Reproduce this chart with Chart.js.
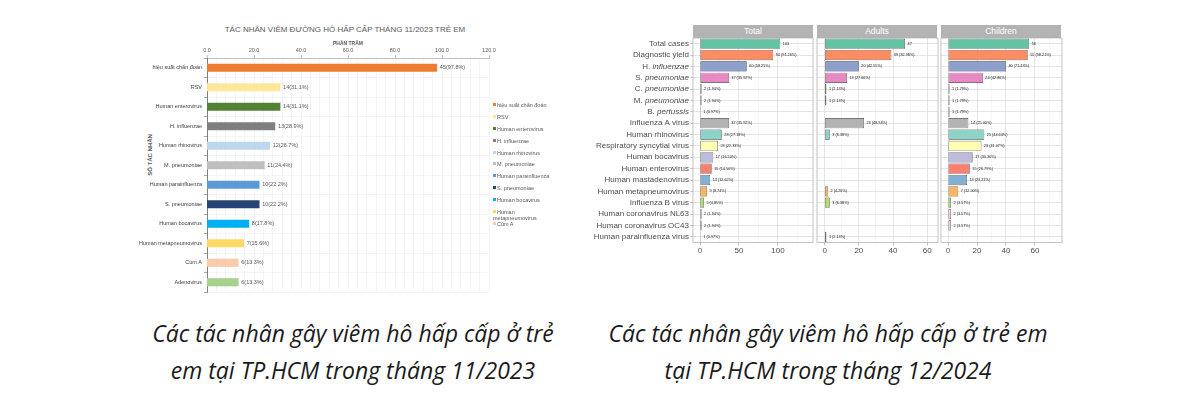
<!DOCTYPE html>
<html>
<head>
<meta charset="utf-8">
<script src="https://cdn.jsdelivr.net/npm/chart.js@4.4.0/dist/chart.umd.min.js"></script>
<style>
  body { margin: 0; background: #fff; }
  #page { position: relative; width: 1200px; height: 400px; overflow: hidden; font-family: "Liberation Sans", Arial, sans-serif; }
  canvas { position: absolute; }
  #leftTitle { position: absolute; left: 130px; width: 430px; top: 25px; text-align: center; font-size: 8px; color: #595959; white-space: nowrap; }
  #leftYTitle { position: absolute; left: 120px; top: 152px; width: 60px; text-align: center; font-size: 6px; font-weight: bold; color: #595959; transform: rotate(-90deg); white-space: nowrap; }
  .legendItem { position: absolute; left: 493px; font-size: 5.5px; line-height: 6px; color: #595959; width: 62px; }
  .legendItem span { display: inline-block; width: 3px; height: 3px; margin-right: 1px; vertical-align: 1px; }
  .strip { position: absolute; top: 25px; height: 12.5px; width: 120px; background: #b3b3b3; color: #fff; font-size: 8.5px; line-height: 12.5px; text-align: center; }
  .caption { position: absolute; top: 315px; font-family: "Open Sans", "Noto Sans", sans-serif; font-style: italic; font-size: 23px; line-height: 37px; color: #1a1a1a; text-align: center; white-space: nowrap; }
</style>
</head>
<body>
<div id="page">
  <div id="leftTitle">TÁC NHÂN VIÊM ĐƯỜNG HÔ HẤP CẤP THÁNG 11/2023 TRẺ EM</div>
  <div id="leftYTitle">SỐ TÁC NHÂN</div>
  <canvas id="chart2023" width="430" height="280" style="left:130px; top:20px"></canvas>
  <div id="legend2023"></div>

  <div class="strip" style="left:693px">Total</div>
  <div class="strip" style="left:817px">Adults</div>
  <div class="strip" style="left:941px">Children</div>
  <canvas id="chartTotal" width="226" height="230" style="left:590px; top:30px"></canvas>
  <canvas id="chartAdults" width="130" height="230" style="left:812px; top:30px"></canvas>
  <canvas id="chartChildren" width="130" height="230" style="left:936px; top:30px"></canvas>

  <div class="caption" style="left:103px; width:500px">Các tác nhân gây viêm hô hấp cấp ở trẻ<br>em tại TP.HCM trong tháng 11/2023</div>
  <div class="caption" style="left:578px; width:500px">Các tác nhân gây viêm hô hấp cấp ở trẻ em<br>tại TP.HCM trong tháng 12/2024</div>
</div>

<script>
// ---- 11/2023 chart data
const agents2023 = ['hiệu suất chẩn đoán', 'RSV', 'Human enterovirus', 'H. influenzae', 'Human rhinovirus',
                    'M. pneumoniae', 'Human parainfluenza', 'S. pneumoniae', 'Human bocavirus',
                    'Human metapneumovirus', 'Cúm A', 'Adenovirus'];
const counts2023 = [45, 14, 14, 13, 12, 11, 10, 10, 8, 7, 6, 6];
const percent2023 = [97.8, 31.1, 31.1, 28.9, 26.7, 24.4, 22.2, 22.2, 17.8, 15.6, 13.3, 13.3];
const colors2023 = ['#ED7D31', '#FFE699', '#548235', '#7F7F7F', '#BDD7EE', '#BFBFBF',
                    '#5B9BD5', '#264478', '#00B0F0', '#FFD966', '#F8CBAD', '#A9D18E'];
const xTicks2023 = [0, 20, 40, 60, 80, 100, 120];
const xTickLabels2023 = ['0.0', '20.0', '40.0', '60.0', '80.0', '100.0', '120.0'];

// ---- 12/2024 chart data
const agents2024 = ['Total cases', 'Diagnostic yield', 'H. influenzae', 'S. pneumoniae', 'C. pneumoniae',
                    'M. pneumoniae', 'B. pertussis', 'Influenza A virus', 'Human rhinovirus',
                    'Respiratory syncytial virus', 'Human bocavirus', 'Human enterovirus',
                    'Human mastadenovirus', 'Human metapneumovirus', 'Influenza B virus',
                    'Human coronavirus NL63', 'Human coronavirus OC43', 'Human parainfluenza virus'];
const totalCounts = [103, 94, 60, 37, 2, 2, 1, 37, 28, 23, 17, 15, 13, 9, 5, 2, 2, 1];
const totalPercent = [null, 91.26, 58.25, 35.92, 1.94, 1.94, 0.97, 35.92, 27.18, 22.33, 16.50, 14.56, 12.62, 8.74, 4.85, 1.94, 1.94, 0.97];
const adultCounts = [47, 39, 20, 13, 1, 1, null, 23, 3, null, null, null, null, 2, 3, null, null, 1];
const adultPercent = [null, 82.98, 42.55, 27.66, 2.13, 2.13, null, 48.94, 6.38, null, null, null, null, 4.26, 6.38, null, null, 2.13];
const childCounts = [56, 55, 40, 24, 1, 1, 1, 14, 25, 23, 17, 15, 13, 7, 2, 2, 2, null];
const childPercent = [null, 98.21, 71.43, 42.86, 1.79, 1.79, 1.79, 25.00, 44.64, 41.07, 30.36, 26.79, 23.21, 12.50, 3.57, 3.57, 3.57, null];
const colors2024 = ['#66C2A5', '#FC8D62', '#8DA0CB', '#E78AC3', '#A6D854', '#FFD92F', '#E5C494', '#B3B3B3',
                    '#8DD3C7', '#FFFFB3', '#BEBADA', '#FB8072', '#80B1D3', '#FDB462', '#B3DE69',
                    '#FCCDE5', '#D9D9D9', '#BC80BD'];
const totalTicks = [0, 25, 50, 75, 100, 125];
const totalTickLabels = ['0', '', '50', '', '100', ''];
const adultTicks = [0, 10, 20, 30, 40, 50, 60];
const adultTickLabels = ['0', '', '20', '', '40', '', '60'];
const childTicks = [0, 10, 20, 30, 40, 50, 60, 70];
const childTickLabels = ['0', '', '20', '', '40', '', '60', ''];

// legend (Excel style, Adenovirus got cut off)
const legendTops = [102, 114, 126, 138, 150, 161, 173, 185, 197, 209, 221];
const legendBox = document.getElementById('legend2023');
legendTops.forEach((top, i) => {
    const item = document.createElement('div');
    item.className = 'legendItem';
    item.style.top = top + 'px';
    item.innerHTML = '<span style="background:' + colors2023[i] + '"></span>' + agents2023[i];
    legendBox.appendChild(item);
});

// value labels next to bars
function valueLabels(textFor, font, color, gap) {
    return {
        id: 'valueLabels',
        afterDatasetsDraw(chart) {
            const c = chart.ctx;
            const meta = chart.getDatasetMeta(0);
            c.save();
            c.font = font;
            c.fillStyle = color;
            c.textAlign = 'left';
            c.textBaseline = 'middle';
            meta.data.forEach((bar, i) => {
                const t = textFor(i);
                if (t === null) return;
                c.fillText(t, bar.x + gap, bar.y);
            });
            c.restore();
        }
    };
}

// ---- left chart
new Chart(document.getElementById('chart2023'), {
    type: 'bar',
    data: {
        labels: agents2023,
        datasets: [{
            data: percent2023,
            backgroundColor: colors2023,
            barThickness: 7.5
        }]
    },
    options: {
        indexAxis: 'y',
        responsive: false,
        animation: false,
        events: [],
        layout: { padding: { top: 16, right: 71, bottom: 8, left: 0 } },
        plugins: { legend: { display: false }, tooltip: { enabled: false } },
        scales: {
            x: {
                position: 'top',
                min: 0,
                max: 120,
                afterFit: s => { s.height = 22 },
                afterBuildTicks: s => {
                    const t = [];
                    for (let v = 0; v <= 120; v += 4) t.push({ value: v });
                    s.ticks = t;
                },
                title: { display: true, text: 'PHẦN TRĂM', color: '#595959', font: { size: 5, weight: 'bold' }, padding: { top: 5, bottom: 0 } },
                ticks: {
                    autoSkip: false,
                    maxRotation: 0,
                    padding: 1,
                    color: '#595959',
                    font: { size: 5.5 },
                    callback: v => {
                        const i = xTicks2023.indexOf(v);
                        return i >= 0 ? xTickLabels2023[i] : '';
                    }
                },
                grid: {
                    color: '#F0F0F0',
                    lineWidth: 0.7,
                    tickLength: 3,
                    tickColor: ctx => xTicks2023.includes(ctx.tick.value) ? '#A6A6A6' : 'rgba(0,0,0,0)'
                },
                border: { color: '#BFBFBF' }
            },
            y: {
                afterFit: s => { s.width = 77 },
                ticks: { color: '#404040', font: { size: 5.5 }, padding: 2, autoSkip: false },
                grid: { color: '#F0F0F0', lineWidth: 0.7, tickColor: '#7F7F7F', tickLength: 3 },
                border: { color: '#7F7F7F' }
            }
        }
    },
    plugins: [valueLabels(i => counts2023[i] + '(' + percent2023[i].toFixed(1) + '%)', '5.5px "Liberation Sans"', '#595959', 3)]
});

// ---- facet panels (ggplot theme_light look)
const panelBorder = {
    id: 'panelBorder',
    afterDraw(chart) {
        const a = chart.chartArea;
        const c = chart.ctx;
        c.save();
        c.strokeStyle = '#B3B3B3';
        c.lineWidth = 0.8;
        c.strokeRect(a.left, a.top, a.right - a.left, a.bottom - a.top);
        c.restore();
    }
};

// y labels with italic species names
const speciesLabels = {
    id: 'speciesLabels',
    afterDraw(chart) {
        const c = chart.ctx;
        const y = chart.scales.y;
        const xEnd = chart.chartArea.left - 4;
        c.save();
        c.fillStyle = '#4D4D4D';
        c.textBaseline = 'middle';
        c.textAlign = 'left';
        agents2024.forEach((name, i) => {
            const py = y.getPixelForTick(i);
            const m = name.match(/^([A-Z]\. )(.+)$/);
            const parts = m ? [[m[1], ''], [m[2], 'italic ']] : [[name, '']];
            let w = 0;
            parts.forEach(p => { c.font = p[1] + '8px "Liberation Sans"'; w += c.measureText(p[0]).width; });
            let x = xEnd - w;
            parts.forEach(p => {
                c.font = p[1] + '8px "Liberation Sans"';
                c.fillText(p[0], x, py);
                x += c.measureText(p[0]).width;
            });
        });
        c.restore();
    }
};

function makePanel(id, counts, percents, min, max, ticks, tickLabels, withLabels, padLeft, padRight) {
    const plugins = [panelBorder, valueLabels(i => {
        if (counts[i] === null) return null;
        return percents[i] === null ? String(counts[i]) : counts[i] + ' (' + percents[i].toFixed(2) + '%)';
    }, '3.8px "Liberation Sans"', '#1a1a1a', 2.5)];
    if (withLabels) plugins.push(speciesLabels);
    new Chart(document.getElementById(id), {
        type: 'bar',
        data: {
            labels: agents2024,
            datasets: [{
                data: counts,
                backgroundColor: colors2024,
                borderColor: '#333333',
                borderWidth: 0.6,
                borderSkipped: false,
                barPercentage: 0.9,
                categoryPercentage: 1.0
            }]
        },
        options: {
            indexAxis: 'y',
            responsive: false,
            animation: false,
            events: [],
            layout: { padding: { top: 8, right: padRight, bottom: 0, left: padLeft } },
            plugins: { legend: { display: false }, tooltip: { enabled: false } },
            scales: {
                x: {
                    min: min,
                    max: max,
                    bounds: 'data',
                    afterFit: s => { s.height = 17.5 },
                    afterBuildTicks: s => { s.ticks = ticks.map(v => ({ value: v })) },
                    ticks: {
                        autoSkip: false,
                        maxRotation: 0,
                        padding: 0,
                        color: '#4D4D4D',
                        font: { size: 8 },
                        callback: v => tickLabels[ticks.indexOf(v)]
                    },
                    grid: {
                        color: ctx => tickLabels[ctx.index] ? '#DEDEDE' : '#EFEFEF',
                        lineWidth: ctx => tickLabels[ctx.index] ? 0.8 : 0.5,
                        tickLength: 3,
                        tickColor: ctx => tickLabels[ctx.index] ? '#B3B3B3' : 'rgba(0,0,0,0)'
                    },
                    border: { display: false }
                },
                y: {
                    afterFit: s => { s.width = withLabels ? 103 : 0 },
                    ticks: { display: false },
                    grid: {
                        offset: false,
                        color: '#DEDEDE',
                        lineWidth: 0.8,
                        drawTicks: withLabels,
                        tickLength: 2.5,
                        tickColor: '#B3B3B3'
                    },
                    border: { display: false }
                }
            }
        },
        plugins: plugins
    });
}

makePanel('chartTotal', totalCounts, totalPercent, -9, 145, totalTicks, totalTickLabels, true, 0, 3);
makePanel('chartAdults', adultCounts, adultPercent, -4.5, 66.3, adultTicks, adultTickLabels, false, 5, 4);
makePanel('chartChildren', childCounts, childPercent, -4.9, 78.7, childTicks, childTickLabels, false, 5, 4);
</script>
</body>
</html>
